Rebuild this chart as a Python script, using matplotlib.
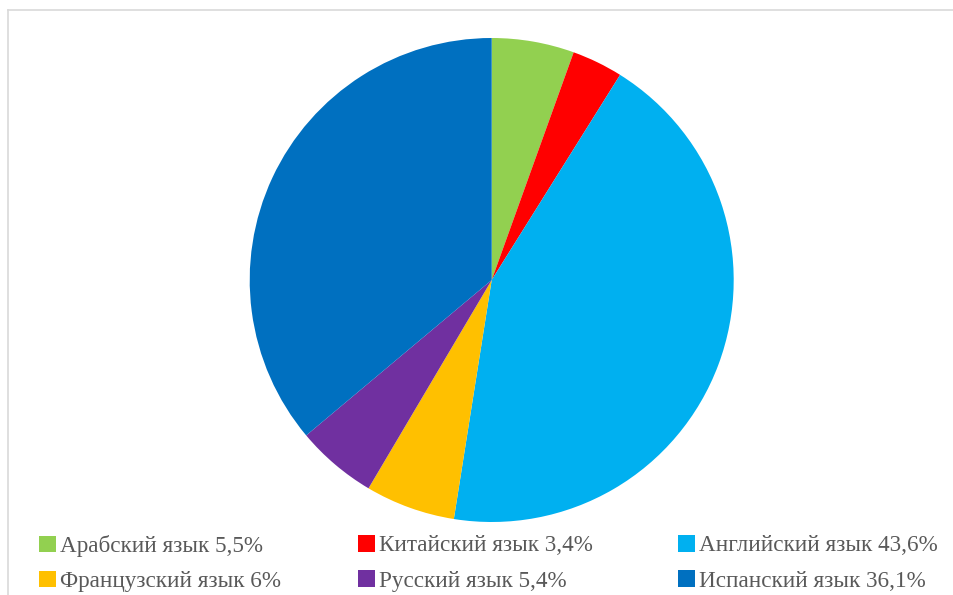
import matplotlib.pyplot as plt
from matplotlib.patches import Patch
from matplotlib.lines import Line2D

# Доли языков (%)
languages = ['Арабский язык', 'Китайский язык', 'Английский язык',
             'Французский язык', 'Русский язык', 'Испанский язык']
shares = [5.5, 3.4, 43.6, 6, 5.4, 36.1]
share_labels = ['5,5%', '3,4%', '43,6%', '6%', '5,4%', '36,1%']
colors = ['#92D050', '#FF0000', '#00B0F0', '#FFC000', '#7030A0', '#0070C0']

W, H = 954, 595
fig = plt.figure(figsize=(W / 100, H / 100), dpi=100)

# pie: center (491.7, 280) px, radius 242 px
cx, cy, r = 491.7, 280, 242
ax = fig.add_axes([(cx - r) / W, (H - cy - r) / H, 2 * r / W, 2 * r / H])
ax.pie(shares, colors=colors, startangle=90, counterclock=False,
       radius=1, wedgeprops={'linewidth': 0})
ax.set_xlim(-1, 1)
ax.set_ylim(-1, 1)
ax.set_aspect('equal')
ax.axis('off')

# chart border (only top and left visible in crop)
fig.add_artist(Line2D([8 / W, 8 / W], [0, 1 - 10 / H], color='#D9D9D9', lw=1.2,
                      transform=fig.transFigure))
fig.add_artist(Line2D([8 / W, 1], [1 - 10 / H, 1 - 10 / H], color='#D9D9D9', lw=1.2,
                      transform=fig.transFigure))

# legend: three columns, two rows
col_x = [39, 358, 678]
for c in range(3):
    idx = [c, c + 3]
    handles = [Patch(facecolor=colors[i], edgecolor='none') for i in idx]
    labels = [f'{languages[i]} {share_labels[i]}' for i in idx]
    leg = fig.legend(handles, labels, loc='upper left',
                     bbox_to_anchor=(col_x[c] / W, 1 - 535 / H),
                     frameon=False, borderpad=0, borderaxespad=0,
                     handlelength=0.72, handleheight=0.72, handletextpad=0.2,
                     labelspacing=0.6,
                     prop={'family': 'Liberation Serif', 'size': 16.7})
    for t in leg.get_texts():
        t.set_color('#595959')

fig.savefig('out.png', dpi=100)
